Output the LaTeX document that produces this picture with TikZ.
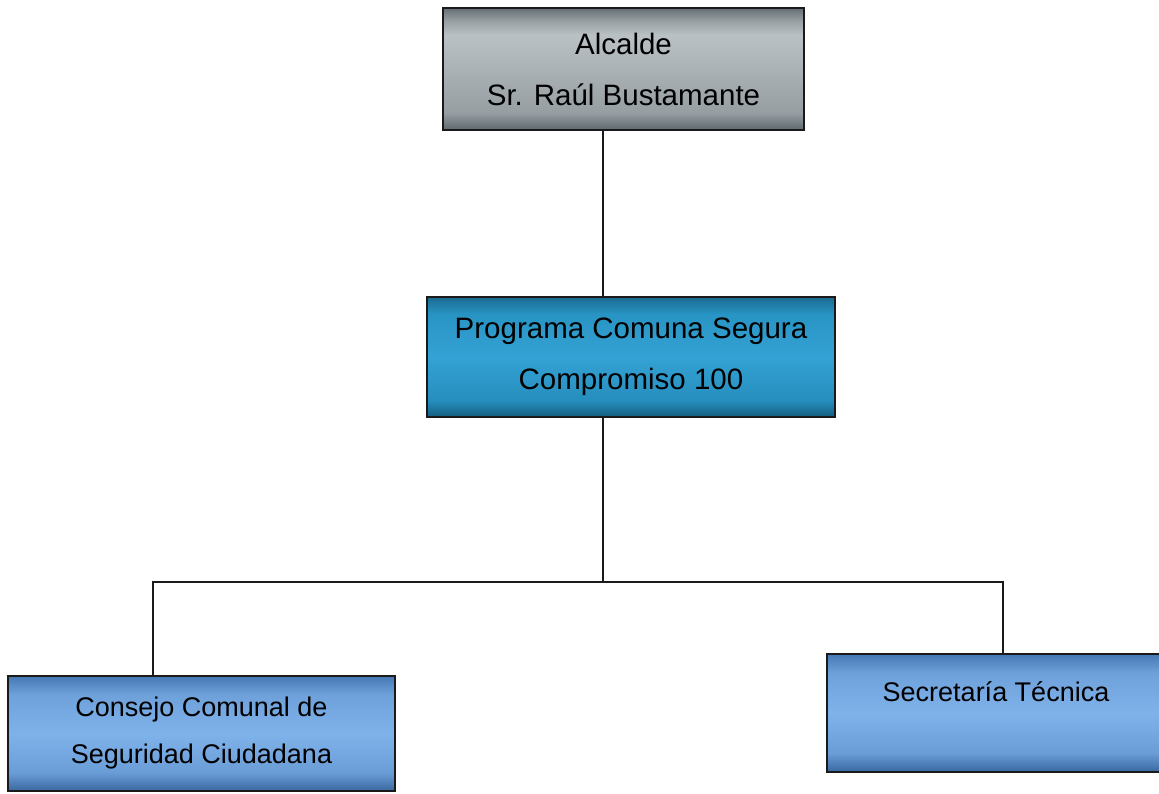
\documentclass[tikz,border=0pt]{standalone}
\usepackage{fontspec}
\setmainfont{Liberation Sans}
\definecolor{lineC}{HTML}{1A1A1A}
\pgfdeclareverticalshading{grayshade}{100bp}{%
  color(0bp)=(rgb,255:red,95;green,105;blue,110);
  color(25bp)=(rgb,255:red,95;green,105;blue,110);
  color(32bp)=(rgb,255:red,150;green,158;blue,162);
  color(50bp)=(rgb,255:red,170;green,178;blue,181);
  color(64bp)=(rgb,255:red,186;green,193;blue,196);
  color(70bp)=(rgb,255:red,150;green,158;blue,162);
  color(75bp)=(rgb,255:red,100;green,110;blue,116);
  color(100bp)=(rgb,255:red,100;green,110;blue,116)}
\pgfdeclareverticalshading{tealshade}{100bp}{%
  color(0bp)=(rgb,255:red,20;green,93;blue,126);
  color(25bp)=(rgb,255:red,20;green,93;blue,126);
  color(32bp)=(rgb,255:red,38;green,142;blue,190);
  color(50bp)=(rgb,255:red,52;green,162;blue,212);
  color(68bp)=(rgb,255:red,40;green,148;blue,196);
  color(75bp)=(rgb,255:red,28;green,106;blue,144);
  color(100bp)=(rgb,255:red,28;green,106;blue,144)}
\pgfdeclareverticalshading{blueshade}{100bp}{%
  color(0bp)=(rgb,255:red,58;green,104;blue,160);
  color(25bp)=(rgb,255:red,58;green,104;blue,160);
  color(33bp)=(rgb,255:red,106;green,156;blue,214);
  color(50bp)=(rgb,255:red,128;green,178;blue,234);
  color(67bp)=(rgb,255:red,110;green,160;blue,218);
  color(75bp)=(rgb,255:red,70;green,120;blue,180);
  color(100bp)=(rgb,255:red,70;green,120;blue,180)}
\begin{document}
\begin{tikzpicture}[x=1pt,y=-1pt,
  box/.style={draw=lineC, line width=2pt, inner sep=0pt, align=center, text=black},
  bigtext/.style={font={\fontsize{29.5pt}{51pt}\selectfont}},
  smalltext/.style={font={\fontsize{27pt}{47pt}\selectfont}},
  graybox/.style={box, shading=grayshade},
  tealbox/.style={box, shading=tealshade},
  bluebox/.style={box, shading=blueshade},
  conn/.style={draw=lineC, line width=2pt}]
\clip (0,0) rectangle (1159,793);
\fill[white] (0,0) rectangle (1159,793);

\node[graybox, bigtext, minimum width=361pt, minimum height=122pt] (alc) at (623.5,69) {Alcalde\\Sr. Raúl Bustamante};
\node[tealbox, bigtext, minimum width=408pt, minimum height=120pt] (prog) at (631,357) {Programa Comuna Segura\\Compromiso 100};
\node[bluebox, smalltext, minimum width=387pt, minimum height=115pt] (cons) at (201.5,733.5) {Consejo Comunal de\\Seguridad Ciudadana};
\node[bluebox, smalltext, minimum width=338pt, minimum height=118pt, text height=20pt, text depth=44pt] (sec) at (996,713) {Secretaría Técnica};

\coordinate (c1) at (603,0);
\coordinate (j) at (603,582);
\coordinate (jl) at (153,582);
\coordinate (jr) at (1003,582);

\draw[conn] (alc.south -| c1) -- (prog.north -| c1);
\draw[conn] (prog.south -| j) -- (j);
\draw[conn] (cons.north -| jl) -- (jl) -- (jr) -- (sec.north -| jr);
\end{tikzpicture}
\end{document}
